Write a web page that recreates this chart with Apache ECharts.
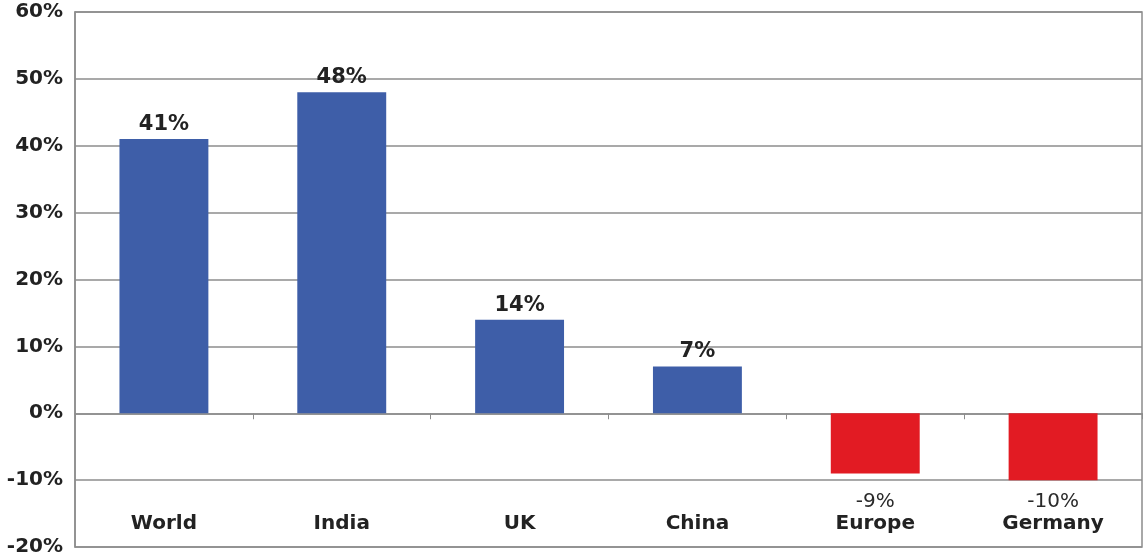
<!DOCTYPE html>
<html>
<head>
<meta charset="utf-8">
<script src="https://cdn.jsdelivr.net/npm/echarts@6/dist/echarts.min.js"></script>
<style>
  html, body { margin: 0; padding: 0; background: #ffffff; }
  #chart { width: 1144px; height: 557px; }
</style>
</head>
<body>
<div id="chart"></div>
<script>
// Growth by region (percent)
const categories = ['World', 'India', 'UK', 'China', 'Europe', 'Germany'];
const growth = [41, 48, 14, 7, -9, -10];
const yTicks = { min: -20, max: 60, step: 10 };

const POS_COLOR = '#3E5EA8';
const NEG_COLOR = '#E21B23';
const FONT = '"DejaVu Sans", "Liberation Sans", Arial, sans-serif';

const chart = echarts.init(document.getElementById('chart'));

chart.setOption({
  animation: false,
  backgroundColor: '#ffffff',
  grid: {
    left: 75, right: 2, top: 12, bottom: 10,
    containLabel: false,
    outerBoundsMode: 'none',
    show: true, borderColor: '#8c8c8c', borderWidth: 1.5
  },
  xAxis: [{
    // zero line with tick marks between categories
    type: 'category',
    data: categories,
    axisLine: { onZero: true, lineStyle: { color: '#8c8c8c', width: 1.5 } },
    axisTick: { show: true, length: 6, lineStyle: { color: '#8c8c8c' } },
    axisLabel: { show: false }
  }, {
    // category names (and negative values) along the bottom, inside the plot
    type: 'category',
    data: categories,
    position: 'bottom',
    axisLine: { show: false, onZero: false },
    axisTick: { show: false },
    axisLabel: {
      inside: true,
      margin: 12,
      interval: 0,
      formatter: function (name, idx) {
        const v = growth[idx];
        return v < 0 ? '{v|' + v + '%}\n{n|' + name + '}' : '{n|' + name + '}';
      },
      rich: {
        v: { fontFamily: FONT, fontSize: 20, color: '#2a2a2a', lineHeight: 22 },
        n: { fontFamily: FONT, fontSize: 20, fontWeight: 'bold', color: '#222', lineHeight: 22 }
      }
    }
  }],
  yAxis: {
    type: 'value',
    min: yTicks.min, max: yTicks.max, interval: yTicks.step,
    axisLine: { show: true, lineStyle: { color: '#8c8c8c', width: 1.5 } },
    axisTick: { show: false },
    splitLine: { lineStyle: { color: '#8c8c8c', width: 1.5 } },
    axisLabel: {
      formatter: '{value}%',
      margin: 12,
      fontFamily: FONT, fontSize: 20, fontWeight: 'bold', color: '#222'
    }
  },
  series: [{
    type: 'bar',
    xAxisIndex: 0,
    barWidth: '50%',
    data: growth.map(function (v) {
      return {
        value: v,
        itemStyle: { color: v < 0 ? NEG_COLOR : POS_COLOR },
        label: { show: v >= 0 }
      };
    }),
    label: {
      position: 'top',
      distance: 4,
      formatter: '{c}%',
      fontFamily: FONT, fontSize: 21, fontWeight: 'bold', color: '#222'
    }
  }]
});
</script>
</body>
</html>
